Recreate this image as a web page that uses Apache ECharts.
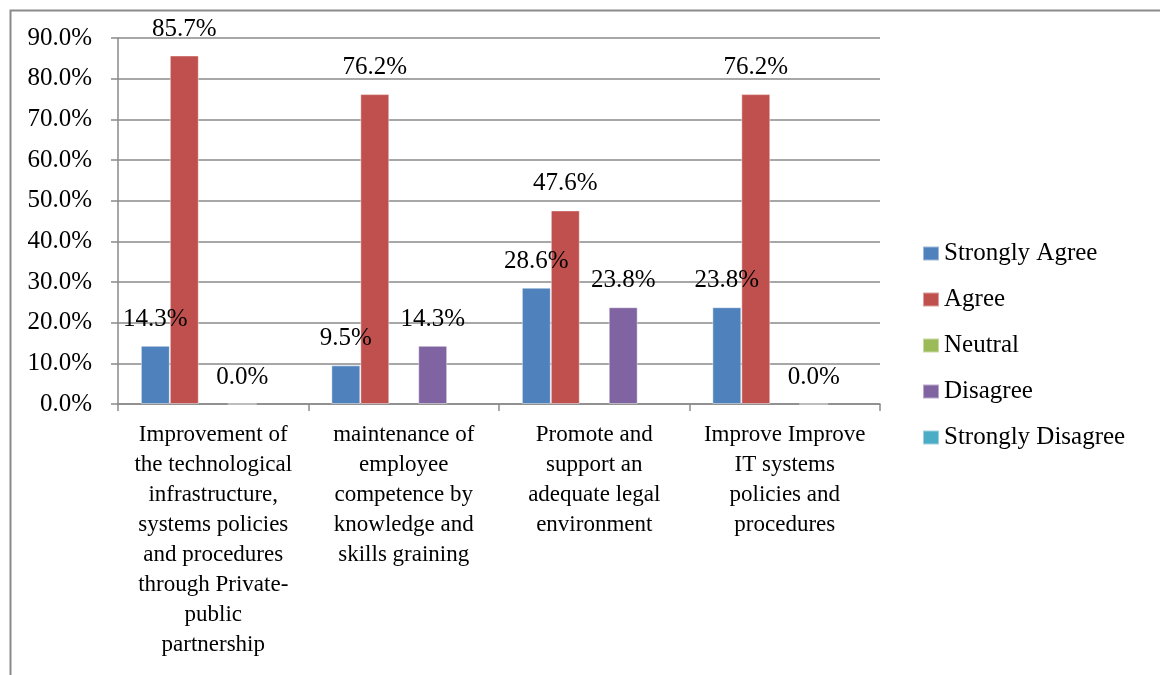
<!DOCTYPE html>
<html>
<head>
<meta charset="utf-8">
<script src="https://cdn.jsdelivr.net/npm/echarts@6/dist/echarts.min.js"></script>
<style>
  html, body { margin: 0; padding: 0; background: #fff; }
  #chart { width: 1160px; height: 675px; }
</style>
</head>
<body>
<div id="chart"></div>
<script>
// Survey responses per improvement area (percent of respondents)
const categories = [
  'Improvement of\nthe technological\ninfrastructure,\nsystems policies\nand procedures\nthrough Private-\npublic\npartnership',
  'maintenance of\nemployee\ncompetence by\nknowledge and\nskills graining',
  'Promote and\nsupport an\nadequate legal\nenvironment',
  'Improve Improve\nIT systems\npolicies and\nprocedures'
];
const seriesNames = ['Strongly Agree', 'Agree', 'Neutral', 'Disagree', 'Strongly Disagree'];
const stronglyAgree    = [14.3, 9.5, 28.6, 23.8];
const agree            = [85.7, 76.2, 47.6, 76.2];
const neutral          = [null, null, null, null];
const disagree         = [0.0, 14.3, 23.8, 0.0];
const stronglyDisagree = [null, null, null, null];
const yTicks = { min: 0, max: 90, interval: 10 };

const colors = ['#4F81BD', '#C0504D', '#9BBB59', '#8064A2', '#4BACC6'];
const serif = '"Liberation Serif", "Times New Roman", serif';
const gridGray = '#8a8a8a';

const valueSets = [stronglyAgree, agree, neutral, disagree, stronglyDisagree];

const chart = echarts.init(document.getElementById('chart'));
chart.setOption({
  animation: false,
  color: colors,
  graphic: [{
    type: 'rect',
    left: 8, top: 8,
    shape: { width: 1200, height: 800 },
    style: { fill: 'none', stroke: gridGray, lineWidth: 2 },
    silent: true
  }],
  grid: { left: 118, right: 280, top: 38, bottom: 271, containLabel: false },
  legend: {
    orient: 'vertical',
    left: 917,
    top: 236,
    itemWidth: 16,
    itemHeight: 14,
    itemGap: 21,
    icon: 'rect',
    textStyle: { fontFamily: serif, fontSize: 25, color: '#000', lineHeight: 25 },
    data: seriesNames
  },
  xAxis: {
    type: 'category',
    data: categories,
    axisLine: { lineStyle: { color: gridGray, width: 1.5 } },
    axisTick: { show: true, alignWithLabel: false, length: 7, lineStyle: { color: gridGray, width: 1.5 } },
    axisLabel: {
      interval: 0,
      margin: 16,
      fontFamily: serif,
      fontSize: 23,
      lineHeight: 30,
      color: '#000',
      align: 'center'
    }
  },
  yAxis: {
    type: 'value',
    min: yTicks.min,
    max: yTicks.max,
    interval: yTicks.interval,
    axisLine: { show: true, lineStyle: { color: gridGray, width: 1.5 } },
    axisTick: { show: true, length: 7, lineStyle: { color: gridGray, width: 1.5 } },
    splitLine: { lineStyle: { color: gridGray, width: 1.5 } },
    axisLabel: {
      margin: 26,
      fontFamily: serif,
      fontSize: 25,
      color: '#000',
      formatter: v => v.toFixed(1) + '%'
    }
  },
  series: seriesNames.map((name, i) => ({
    name,
    type: 'bar',
    data: valueSets[i],
    barGap: '0%',
    barCategoryGap: '24%',
    itemStyle: { borderColor: 'rgba(255,255,255,0.45)', borderWidth: 1 },
    label: {
      show: true,
      position: 'top',
      distance: 14,
      fontFamily: serif,
      fontSize: 25,
      color: '#000',
      formatter: p => (p.value == null ? '' : p.value.toFixed(1) + '%')
    }
  }))
});
</script>
</body>
</html>
